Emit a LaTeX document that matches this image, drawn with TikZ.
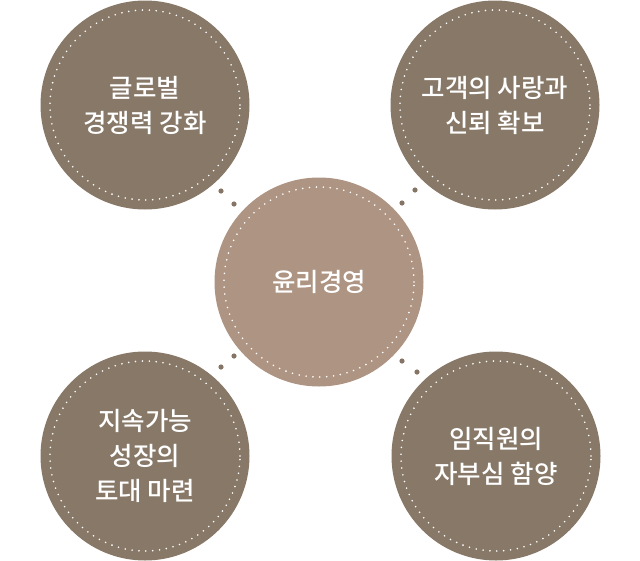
\documentclass[tikz,border=0pt]{standalone}
\usepackage{fontspec}
\newfontfamily\kofont{Noto Sans CJK KR Medium}
\usetikzlibrary{positioning,calc}
\definecolor{outerbr}{HTML}{877868}
\definecolor{innerbr}{HTML}{AE9583}
\definecolor{linkdot}{HTML}{857566}
\tikzset{
  every picture/.append style={font=\kofont},
  bubble/.style  = {circle, fill=outerbr, minimum size=209pt, inner sep=0pt,
                    text=white, align=center,
                    font=\kofont\fontsize{25.5}{35}\selectfont,
                    path picture={\draw[ringdots]
                      (path picture bounding box.center) circle (95pt);}},
  core/.style    = {bubble, fill=innerbr},
  ringdots/.style= {draw=white, line width=1.8pt, line cap=round,
                    dash pattern=on 0pt off 6.9pt},
  ldot/.style    = {fill=linkdot},
}

\begin{document}
\begin{tikzpicture}[x=1pt,y=-1pt]
  \useasboundingbox (0,0) rectangle (640,560);
  % centre and four satellites
  \node[core]   (ethic) at (319,282) {윤리경영};
  \node[bubble] (glob)  at (145,105) {글로벌\\경쟁력 강화};
  \node[bubble] (cust)  at (495,105) {고객의 사랑과\\신뢰 확보};
  \node[bubble] (grow)  at (145,456) {지속가능\\성장의\\토대 마련};
  \node[bubble] (staff) at (496,456) {임직원의\\자부심 함양};
  % little dots between the circles
  \fill[ldot] (221,191) circle (2.6pt) (234,204) circle (2.6pt);
  \fill[ldot] (415,190) circle (2.6pt) (402,203) circle (2.6pt);
  \fill[ldot] (234,356) circle (2.6pt) (221,367) circle (2.6pt);
  \fill[ldot] (402,361) circle (2.6pt) (417,372) circle (2.6pt);
\end{tikzpicture}
\end{document}
